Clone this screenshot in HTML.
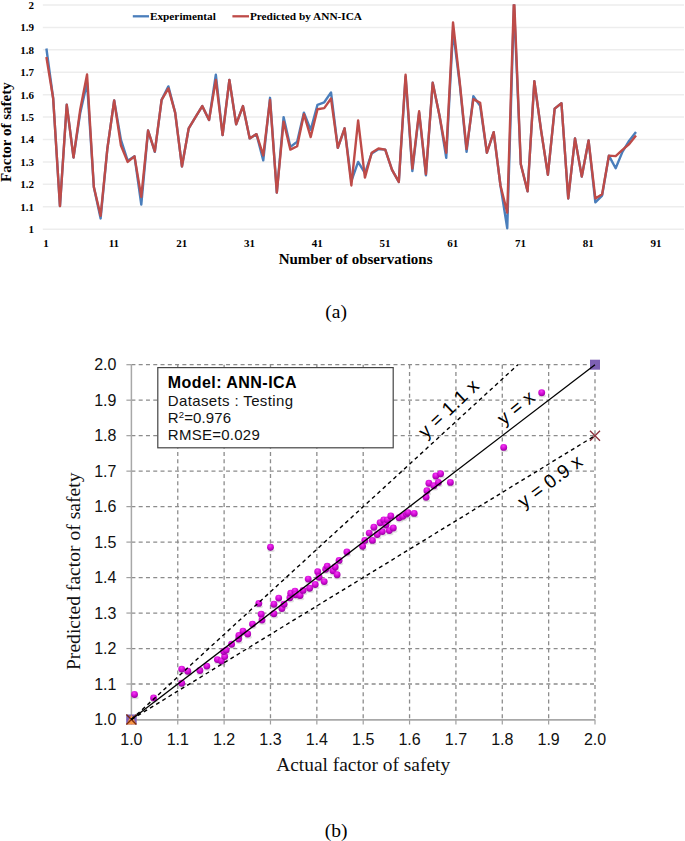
<!DOCTYPE html><html><head><meta charset="utf-8"><style>html,body{margin:0;padding:0;background:#fff;}svg{display:block;}</style></head><body>
<svg width="685" height="841" viewBox="0 0 685 841">
<defs><radialGradient id="ball" cx="0.45" cy="0.3" r="0.75"><stop offset="0" stop-color="#f53cf5"/><stop offset="0.5" stop-color="#d20ad5"/><stop offset="1" stop-color="#8a0095"/></radialGradient></defs>
<rect width="685" height="841" fill="#fff"/>
<line x1="42.8" y1="229.20" x2="684" y2="229.20" stroke="#ededed" stroke-width="1.5"/>
<line x1="42.8" y1="206.78" x2="684" y2="206.78" stroke="#ededed" stroke-width="1.5"/>
<line x1="42.8" y1="184.36" x2="684" y2="184.36" stroke="#ededed" stroke-width="1.5"/>
<line x1="42.8" y1="161.94" x2="684" y2="161.94" stroke="#ededed" stroke-width="1.5"/>
<line x1="42.8" y1="139.52" x2="684" y2="139.52" stroke="#ededed" stroke-width="1.5"/>
<line x1="42.8" y1="117.10" x2="684" y2="117.10" stroke="#ededed" stroke-width="1.5"/>
<line x1="42.8" y1="94.68" x2="684" y2="94.68" stroke="#ededed" stroke-width="1.5"/>
<line x1="42.8" y1="72.26" x2="684" y2="72.26" stroke="#ededed" stroke-width="1.5"/>
<line x1="42.8" y1="49.84" x2="684" y2="49.84" stroke="#ededed" stroke-width="1.5"/>
<line x1="42.8" y1="27.42" x2="684" y2="27.42" stroke="#ededed" stroke-width="1.5"/>
<line x1="42.8" y1="5.00" x2="684" y2="5.00" stroke="#ededed" stroke-width="1.5"/>
<text x="34" y="233.10" text-anchor="end" font-family="Liberation Serif, serif" font-weight="bold" font-size="11">1</text>
<text x="34" y="210.68" text-anchor="end" font-family="Liberation Serif, serif" font-weight="bold" font-size="11">1.1</text>
<text x="34" y="188.26" text-anchor="end" font-family="Liberation Serif, serif" font-weight="bold" font-size="11">1.2</text>
<text x="34" y="165.84" text-anchor="end" font-family="Liberation Serif, serif" font-weight="bold" font-size="11">1.3</text>
<text x="34" y="143.42" text-anchor="end" font-family="Liberation Serif, serif" font-weight="bold" font-size="11">1.4</text>
<text x="34" y="121.00" text-anchor="end" font-family="Liberation Serif, serif" font-weight="bold" font-size="11">1.5</text>
<text x="34" y="98.58" text-anchor="end" font-family="Liberation Serif, serif" font-weight="bold" font-size="11">1.6</text>
<text x="34" y="76.16" text-anchor="end" font-family="Liberation Serif, serif" font-weight="bold" font-size="11">1.7</text>
<text x="34" y="53.74" text-anchor="end" font-family="Liberation Serif, serif" font-weight="bold" font-size="11">1.8</text>
<text x="34" y="31.32" text-anchor="end" font-family="Liberation Serif, serif" font-weight="bold" font-size="11">1.9</text>
<text x="34" y="8.90" text-anchor="end" font-family="Liberation Serif, serif" font-weight="bold" font-size="11">2</text>
<text x="46.10" y="246.7" text-anchor="middle" font-family="Liberation Serif, serif" font-weight="bold" font-size="11">1</text>
<text x="113.87" y="246.7" text-anchor="middle" font-family="Liberation Serif, serif" font-weight="bold" font-size="11">11</text>
<text x="181.64" y="246.7" text-anchor="middle" font-family="Liberation Serif, serif" font-weight="bold" font-size="11">21</text>
<text x="249.41" y="246.7" text-anchor="middle" font-family="Liberation Serif, serif" font-weight="bold" font-size="11">31</text>
<text x="317.18" y="246.7" text-anchor="middle" font-family="Liberation Serif, serif" font-weight="bold" font-size="11">41</text>
<text x="384.95" y="246.7" text-anchor="middle" font-family="Liberation Serif, serif" font-weight="bold" font-size="11">51</text>
<text x="452.72" y="246.7" text-anchor="middle" font-family="Liberation Serif, serif" font-weight="bold" font-size="11">61</text>
<text x="520.49" y="246.7" text-anchor="middle" font-family="Liberation Serif, serif" font-weight="bold" font-size="11">71</text>
<text x="588.26" y="246.7" text-anchor="middle" font-family="Liberation Serif, serif" font-weight="bold" font-size="11">81</text>
<text x="656.03" y="246.7" text-anchor="middle" font-family="Liberation Serif, serif" font-weight="bold" font-size="11">91</text>
<clipPath id="tc"><rect x="0" y="4.2" width="685" height="240"/></clipPath>
<g clip-path="url(#tc)">
<polyline points="46.40,48.49 53.18,98.49 59.95,206.11 66.73,104.77 73.51,157.46 80.28,112.62 87.06,82.80 93.84,187.05 100.62,218.44 107.39,148.49 114.17,100.51 120.95,139.97 127.72,160.82 134.50,156.34 141.28,204.54 148.06,130.55 154.83,151.85 161.61,99.84 168.39,86.38 175.16,112.62 181.94,166.42 188.72,128.31 195.49,117.10 202.27,106.11 209.05,120.01 215.83,74.73 222.60,135.04 229.38,79.88 236.16,124.27 242.93,106.11 249.71,138.40 256.49,134.14 263.26,160.37 270.04,97.82 276.82,192.66 283.59,117.10 290.37,146.92 297.15,141.76 303.93,112.62 310.70,129.88 317.48,104.77 324.26,102.30 331.03,92.44 337.81,147.82 344.59,128.31 351.37,181.22 358.14,161.94 364.92,173.15 371.70,153.42 378.47,149.16 385.25,149.61 392.03,169.79 398.80,181.89 405.58,76.74 412.36,171.13 419.13,112.62 425.91,175.39 432.69,82.80 439.47,115.53 446.24,157.90 453.02,30.56 459.80,84.59 466.57,151.85 473.35,96.25 480.13,105.89 486.90,152.75 493.68,132.12 500.46,185.48 507.24,228.30 514.01,5.00 520.79,164.18 527.57,191.31 534.34,81.23 541.12,130.55 547.90,174.72 554.68,108.58 561.45,103.20 568.23,198.48 575.01,138.40 581.78,176.51 588.56,140.42 595.34,202.30 602.11,195.57 608.89,155.66 615.67,168.22 622.44,151.85 629.22,140.64 636.00,131.90" fill="none" stroke="#4a7ebb" stroke-width="2.4" stroke-linejoin="round"/>
<polyline points="46.40,57.01 53.18,98.49 59.95,206.11 66.73,104.77 73.51,157.46 80.28,109.25 87.06,74.50 93.84,187.05 100.62,215.75 107.39,148.49 114.17,100.51 120.95,145.57 127.72,161.94 134.50,156.34 141.28,196.92 148.06,130.55 154.83,151.40 161.61,99.84 168.39,88.40 175.16,112.62 181.94,166.42 188.72,128.31 195.49,117.10 202.27,106.11 209.05,120.01 215.83,79.88 222.60,135.04 229.38,79.88 236.16,124.27 242.93,106.11 249.71,138.40 256.49,134.14 263.26,155.44 270.04,99.84 276.82,192.66 283.59,121.58 290.37,149.61 297.15,146.25 303.93,114.19 310.70,137.05 317.48,109.25 324.26,108.13 331.03,98.49 337.81,147.82 344.59,128.31 351.37,185.48 358.14,120.46 364.92,177.63 371.70,152.75 378.47,148.49 385.25,149.61 392.03,169.79 398.80,181.89 405.58,74.73 412.36,168.67 419.13,111.27 425.91,174.05 432.69,82.80 439.47,115.53 446.24,152.75 453.02,22.49 459.80,82.80 466.57,149.16 473.35,99.16 480.13,102.75 486.90,152.75 493.68,132.12 500.46,185.48 507.24,212.61 514.01,-3.97 520.79,164.18 527.57,191.31 534.34,81.23 541.12,130.55 547.90,174.72 554.68,108.58 561.45,103.20 568.23,198.48 575.01,138.40 581.78,176.51 588.56,140.42 595.34,198.48 602.11,194.22 608.89,155.66 615.67,156.11 622.44,149.83 629.22,144.00 636.00,135.48" fill="none" stroke="#be4b48" stroke-width="2.4" stroke-linejoin="round"/>
</g>
<line x1="132.8" y1="16.3" x2="149" y2="16.3" stroke="#4a7ebb" stroke-width="2.3"/>
<text x="149.9" y="19.8" font-family="Liberation Serif, serif" font-weight="bold" font-size="11.3">Experimental</text>
<line x1="232.4" y1="16.3" x2="249" y2="16.3" stroke="#be4b48" stroke-width="2.3"/>
<text x="249.9" y="19.8" font-family="Liberation Serif, serif" font-weight="bold" font-size="11.3">Predicted by ANN-ICA</text>
<text x="355.6" y="263.6" text-anchor="middle" font-family="Liberation Serif, serif" font-weight="bold" font-size="15">Number of observations</text>
<text transform="translate(10.7,132.1) rotate(-90)" text-anchor="middle" font-family="Liberation Serif, serif" font-weight="bold" font-size="15">Factor of safety</text>
<text x="336.1" y="317.6" text-anchor="middle" font-family="Liberation Serif, serif" font-size="19.5">(a)</text>
<line x1="177.76" y1="364.70" x2="177.76" y2="719.5" stroke="#8c8c8c" stroke-width="1.3" stroke-dasharray="4 3.28"/>
<line x1="131.4" y1="684.02" x2="595.00" y2="684.02" stroke="#8c8c8c" stroke-width="1.3" stroke-dasharray="4 3.28"/>
<line x1="224.12" y1="364.70" x2="224.12" y2="719.5" stroke="#8c8c8c" stroke-width="1.3" stroke-dasharray="4 3.28"/>
<line x1="131.4" y1="648.54" x2="595.00" y2="648.54" stroke="#8c8c8c" stroke-width="1.3" stroke-dasharray="4 3.28"/>
<line x1="270.48" y1="364.70" x2="270.48" y2="719.5" stroke="#8c8c8c" stroke-width="1.3" stroke-dasharray="4 3.28"/>
<line x1="131.4" y1="613.06" x2="595.00" y2="613.06" stroke="#8c8c8c" stroke-width="1.3" stroke-dasharray="4 3.28"/>
<line x1="316.84" y1="364.70" x2="316.84" y2="719.5" stroke="#8c8c8c" stroke-width="1.3" stroke-dasharray="4 3.28"/>
<line x1="131.4" y1="577.58" x2="595.00" y2="577.58" stroke="#8c8c8c" stroke-width="1.3" stroke-dasharray="4 3.28"/>
<line x1="363.20" y1="364.70" x2="363.20" y2="719.5" stroke="#8c8c8c" stroke-width="1.3" stroke-dasharray="4 3.28"/>
<line x1="131.4" y1="542.10" x2="595.00" y2="542.10" stroke="#8c8c8c" stroke-width="1.3" stroke-dasharray="4 3.28"/>
<line x1="409.56" y1="364.70" x2="409.56" y2="719.5" stroke="#8c8c8c" stroke-width="1.3" stroke-dasharray="4 3.28"/>
<line x1="131.4" y1="506.62" x2="595.00" y2="506.62" stroke="#8c8c8c" stroke-width="1.3" stroke-dasharray="4 3.28"/>
<line x1="455.92" y1="364.70" x2="455.92" y2="719.5" stroke="#8c8c8c" stroke-width="1.3" stroke-dasharray="4 3.28"/>
<line x1="131.4" y1="471.14" x2="595.00" y2="471.14" stroke="#8c8c8c" stroke-width="1.3" stroke-dasharray="4 3.28"/>
<line x1="502.28" y1="364.70" x2="502.28" y2="719.5" stroke="#8c8c8c" stroke-width="1.3" stroke-dasharray="4 3.28"/>
<line x1="131.4" y1="435.66" x2="595.00" y2="435.66" stroke="#8c8c8c" stroke-width="1.3" stroke-dasharray="4 3.28"/>
<line x1="548.64" y1="364.70" x2="548.64" y2="719.5" stroke="#8c8c8c" stroke-width="1.3" stroke-dasharray="4 3.28"/>
<line x1="131.4" y1="400.18" x2="595.00" y2="400.18" stroke="#8c8c8c" stroke-width="1.3" stroke-dasharray="4 3.28"/>
<line x1="595.00" y1="364.70" x2="595.00" y2="719.5" stroke="#8c8c8c" stroke-width="1.3" stroke-dasharray="4 3.28"/>
<line x1="131.4" y1="364.70" x2="595.00" y2="364.70" stroke="#8c8c8c" stroke-width="1.3" stroke-dasharray="4 3.28"/>
<line x1="131.40" y1="719.5" x2="131.40" y2="724.5" stroke="#a0a0a0" stroke-width="1.2"/>
<line x1="126.4" y1="719.50" x2="131.4" y2="719.50" stroke="#a0a0a0" stroke-width="1.2"/>
<line x1="177.76" y1="719.5" x2="177.76" y2="724.5" stroke="#a0a0a0" stroke-width="1.2"/>
<line x1="126.4" y1="684.02" x2="131.4" y2="684.02" stroke="#a0a0a0" stroke-width="1.2"/>
<line x1="224.12" y1="719.5" x2="224.12" y2="724.5" stroke="#a0a0a0" stroke-width="1.2"/>
<line x1="126.4" y1="648.54" x2="131.4" y2="648.54" stroke="#a0a0a0" stroke-width="1.2"/>
<line x1="270.48" y1="719.5" x2="270.48" y2="724.5" stroke="#a0a0a0" stroke-width="1.2"/>
<line x1="126.4" y1="613.06" x2="131.4" y2="613.06" stroke="#a0a0a0" stroke-width="1.2"/>
<line x1="316.84" y1="719.5" x2="316.84" y2="724.5" stroke="#a0a0a0" stroke-width="1.2"/>
<line x1="126.4" y1="577.58" x2="131.4" y2="577.58" stroke="#a0a0a0" stroke-width="1.2"/>
<line x1="363.20" y1="719.5" x2="363.20" y2="724.5" stroke="#a0a0a0" stroke-width="1.2"/>
<line x1="126.4" y1="542.10" x2="131.4" y2="542.10" stroke="#a0a0a0" stroke-width="1.2"/>
<line x1="409.56" y1="719.5" x2="409.56" y2="724.5" stroke="#a0a0a0" stroke-width="1.2"/>
<line x1="126.4" y1="506.62" x2="131.4" y2="506.62" stroke="#a0a0a0" stroke-width="1.2"/>
<line x1="455.92" y1="719.5" x2="455.92" y2="724.5" stroke="#a0a0a0" stroke-width="1.2"/>
<line x1="126.4" y1="471.14" x2="131.4" y2="471.14" stroke="#a0a0a0" stroke-width="1.2"/>
<line x1="502.28" y1="719.5" x2="502.28" y2="724.5" stroke="#a0a0a0" stroke-width="1.2"/>
<line x1="126.4" y1="435.66" x2="131.4" y2="435.66" stroke="#a0a0a0" stroke-width="1.2"/>
<line x1="548.64" y1="719.5" x2="548.64" y2="724.5" stroke="#a0a0a0" stroke-width="1.2"/>
<line x1="126.4" y1="400.18" x2="131.4" y2="400.18" stroke="#a0a0a0" stroke-width="1.2"/>
<line x1="595.00" y1="719.5" x2="595.00" y2="724.5" stroke="#a0a0a0" stroke-width="1.2"/>
<line x1="126.4" y1="364.70" x2="131.4" y2="364.70" stroke="#a0a0a0" stroke-width="1.2"/>
<line x1="131.4" y1="364.70" x2="131.4" y2="720.2" stroke="#a8a8a8" stroke-width="1.5"/>
<line x1="130.6" y1="719.8" x2="595.00" y2="719.8" stroke="#a8a8a8" stroke-width="1.8"/>
<text x="116.4" y="725.10" text-anchor="end" font-family="Liberation Sans, sans-serif" font-size="16" fill="#111">1.0</text>
<text x="131.40" y="745.3" text-anchor="middle" font-family="Liberation Sans, sans-serif" font-size="16" fill="#111">1.0</text>
<text x="116.4" y="689.62" text-anchor="end" font-family="Liberation Sans, sans-serif" font-size="16" fill="#111">1.1</text>
<text x="177.76" y="745.3" text-anchor="middle" font-family="Liberation Sans, sans-serif" font-size="16" fill="#111">1.1</text>
<text x="116.4" y="654.14" text-anchor="end" font-family="Liberation Sans, sans-serif" font-size="16" fill="#111">1.2</text>
<text x="224.12" y="745.3" text-anchor="middle" font-family="Liberation Sans, sans-serif" font-size="16" fill="#111">1.2</text>
<text x="116.4" y="618.66" text-anchor="end" font-family="Liberation Sans, sans-serif" font-size="16" fill="#111">1.3</text>
<text x="270.48" y="745.3" text-anchor="middle" font-family="Liberation Sans, sans-serif" font-size="16" fill="#111">1.3</text>
<text x="116.4" y="583.18" text-anchor="end" font-family="Liberation Sans, sans-serif" font-size="16" fill="#111">1.4</text>
<text x="316.84" y="745.3" text-anchor="middle" font-family="Liberation Sans, sans-serif" font-size="16" fill="#111">1.4</text>
<text x="116.4" y="547.70" text-anchor="end" font-family="Liberation Sans, sans-serif" font-size="16" fill="#111">1.5</text>
<text x="363.20" y="745.3" text-anchor="middle" font-family="Liberation Sans, sans-serif" font-size="16" fill="#111">1.5</text>
<text x="116.4" y="512.22" text-anchor="end" font-family="Liberation Sans, sans-serif" font-size="16" fill="#111">1.6</text>
<text x="409.56" y="745.3" text-anchor="middle" font-family="Liberation Sans, sans-serif" font-size="16" fill="#111">1.6</text>
<text x="116.4" y="476.74" text-anchor="end" font-family="Liberation Sans, sans-serif" font-size="16" fill="#111">1.7</text>
<text x="455.92" y="745.3" text-anchor="middle" font-family="Liberation Sans, sans-serif" font-size="16" fill="#111">1.7</text>
<text x="116.4" y="441.26" text-anchor="end" font-family="Liberation Sans, sans-serif" font-size="16" fill="#111">1.8</text>
<text x="502.28" y="745.3" text-anchor="middle" font-family="Liberation Sans, sans-serif" font-size="16" fill="#111">1.8</text>
<text x="116.4" y="405.78" text-anchor="end" font-family="Liberation Sans, sans-serif" font-size="16" fill="#111">1.9</text>
<text x="548.64" y="745.3" text-anchor="middle" font-family="Liberation Sans, sans-serif" font-size="16" fill="#111">1.9</text>
<text x="116.4" y="370.30" text-anchor="end" font-family="Liberation Sans, sans-serif" font-size="16" fill="#111">2.0</text>
<text x="595.00" y="745.3" text-anchor="middle" font-family="Liberation Sans, sans-serif" font-size="16" fill="#111">2.0</text>
<ellipse cx="135.1" cy="697.7" rx="3.6" ry="1.6" fill="#000" opacity="0.12"/>
<ellipse cx="154.2" cy="701.1" rx="3.6" ry="1.6" fill="#000" opacity="0.12"/>
<ellipse cx="182.3" cy="672.3" rx="3.6" ry="1.6" fill="#000" opacity="0.12"/>
<ellipse cx="188.4" cy="674.4" rx="3.6" ry="1.6" fill="#000" opacity="0.12"/>
<ellipse cx="182.3" cy="686.4" rx="3.6" ry="1.6" fill="#000" opacity="0.12"/>
<ellipse cx="200.5" cy="673.7" rx="3.6" ry="1.6" fill="#000" opacity="0.12"/>
<ellipse cx="207.4" cy="669.3" rx="3.6" ry="1.6" fill="#000" opacity="0.12"/>
<ellipse cx="218.0" cy="662.8" rx="3.6" ry="1.6" fill="#000" opacity="0.12"/>
<ellipse cx="222.0" cy="664.2" rx="3.6" ry="1.6" fill="#000" opacity="0.12"/>
<ellipse cx="225.3" cy="659.8" rx="3.6" ry="1.6" fill="#000" opacity="0.12"/>
<ellipse cx="224.3" cy="654.7" rx="3.6" ry="1.6" fill="#000" opacity="0.12"/>
<ellipse cx="226.8" cy="653.3" rx="3.6" ry="1.6" fill="#000" opacity="0.12"/>
<ellipse cx="232.2" cy="647.4" rx="3.6" ry="1.6" fill="#000" opacity="0.12"/>
<ellipse cx="239.2" cy="642.3" rx="3.6" ry="1.6" fill="#000" opacity="0.12"/>
<ellipse cx="239.5" cy="638.7" rx="3.6" ry="1.6" fill="#000" opacity="0.12"/>
<ellipse cx="243.6" cy="634.3" rx="3.6" ry="1.6" fill="#000" opacity="0.12"/>
<ellipse cx="248.3" cy="637.2" rx="3.6" ry="1.6" fill="#000" opacity="0.12"/>
<ellipse cx="253.1" cy="627.3" rx="3.6" ry="1.6" fill="#000" opacity="0.12"/>
<ellipse cx="259.4" cy="606.6" rx="3.6" ry="1.6" fill="#000" opacity="0.12"/>
<ellipse cx="261.8" cy="617.5" rx="3.6" ry="1.6" fill="#000" opacity="0.12"/>
<ellipse cx="262.6" cy="623.3" rx="3.6" ry="1.6" fill="#000" opacity="0.12"/>
<ellipse cx="271.1" cy="550.5" rx="3.6" ry="1.6" fill="#000" opacity="0.12"/>
<ellipse cx="274.5" cy="616.9" rx="3.6" ry="1.6" fill="#000" opacity="0.12"/>
<ellipse cx="274.5" cy="607.4" rx="3.6" ry="1.6" fill="#000" opacity="0.12"/>
<ellipse cx="279.3" cy="601.3" rx="3.6" ry="1.6" fill="#000" opacity="0.12"/>
<ellipse cx="282.5" cy="611.8" rx="3.6" ry="1.6" fill="#000" opacity="0.12"/>
<ellipse cx="284.7" cy="607.4" rx="3.6" ry="1.6" fill="#000" opacity="0.12"/>
<ellipse cx="290.5" cy="600.9" rx="3.6" ry="1.6" fill="#000" opacity="0.12"/>
<ellipse cx="291.3" cy="596.5" rx="3.6" ry="1.6" fill="#000" opacity="0.12"/>
<ellipse cx="295.6" cy="594.3" rx="3.6" ry="1.6" fill="#000" opacity="0.12"/>
<ellipse cx="296.4" cy="597.9" rx="3.6" ry="1.6" fill="#000" opacity="0.12"/>
<ellipse cx="300.7" cy="598.7" rx="3.6" ry="1.6" fill="#000" opacity="0.12"/>
<ellipse cx="303.7" cy="593.6" rx="3.6" ry="1.6" fill="#000" opacity="0.12"/>
<ellipse cx="310.2" cy="591.4" rx="3.6" ry="1.6" fill="#000" opacity="0.12"/>
<ellipse cx="308.8" cy="582.3" rx="3.6" ry="1.6" fill="#000" opacity="0.12"/>
<ellipse cx="315.8" cy="587.7" rx="3.6" ry="1.6" fill="#000" opacity="0.12"/>
<ellipse cx="318.3" cy="575.0" rx="3.6" ry="1.6" fill="#000" opacity="0.12"/>
<ellipse cx="319.7" cy="580.4" rx="3.6" ry="1.6" fill="#000" opacity="0.12"/>
<ellipse cx="324.8" cy="584.8" rx="3.6" ry="1.6" fill="#000" opacity="0.12"/>
<ellipse cx="326.3" cy="572.4" rx="3.6" ry="1.6" fill="#000" opacity="0.12"/>
<ellipse cx="327.8" cy="569.5" rx="3.6" ry="1.6" fill="#000" opacity="0.12"/>
<ellipse cx="333.6" cy="573.9" rx="3.6" ry="1.6" fill="#000" opacity="0.12"/>
<ellipse cx="335.8" cy="570.2" rx="3.6" ry="1.6" fill="#000" opacity="0.12"/>
<ellipse cx="337.7" cy="577.9" rx="3.6" ry="1.6" fill="#000" opacity="0.12"/>
<ellipse cx="339.7" cy="563.6" rx="3.6" ry="1.6" fill="#000" opacity="0.12"/>
<ellipse cx="347.5" cy="555.2" rx="3.6" ry="1.6" fill="#000" opacity="0.12"/>
<ellipse cx="363.2" cy="549.4" rx="3.6" ry="1.6" fill="#000" opacity="0.12"/>
<ellipse cx="365.4" cy="543.6" rx="3.6" ry="1.6" fill="#000" opacity="0.12"/>
<ellipse cx="369.8" cy="536.3" rx="3.6" ry="1.6" fill="#000" opacity="0.12"/>
<ellipse cx="373.0" cy="543.6" rx="3.6" ry="1.6" fill="#000" opacity="0.12"/>
<ellipse cx="374.5" cy="530.4" rx="3.6" ry="1.6" fill="#000" opacity="0.12"/>
<ellipse cx="377.8" cy="537.7" rx="3.6" ry="1.6" fill="#000" opacity="0.12"/>
<ellipse cx="380.7" cy="526.0" rx="3.6" ry="1.6" fill="#000" opacity="0.12"/>
<ellipse cx="382.9" cy="534.8" rx="3.6" ry="1.6" fill="#000" opacity="0.12"/>
<ellipse cx="384.4" cy="523.1" rx="3.6" ry="1.6" fill="#000" opacity="0.12"/>
<ellipse cx="386.6" cy="528.2" rx="3.6" ry="1.6" fill="#000" opacity="0.12"/>
<ellipse cx="388.0" cy="523.1" rx="3.6" ry="1.6" fill="#000" opacity="0.12"/>
<ellipse cx="389.9" cy="533.8" rx="3.6" ry="1.6" fill="#000" opacity="0.12"/>
<ellipse cx="391.4" cy="519.2" rx="3.6" ry="1.6" fill="#000" opacity="0.12"/>
<ellipse cx="393.9" cy="531.2" rx="3.6" ry="1.6" fill="#000" opacity="0.12"/>
<ellipse cx="399.7" cy="520.9" rx="3.6" ry="1.6" fill="#000" opacity="0.12"/>
<ellipse cx="403.4" cy="519.5" rx="3.6" ry="1.6" fill="#000" opacity="0.12"/>
<ellipse cx="407.0" cy="517.3" rx="3.6" ry="1.6" fill="#000" opacity="0.12"/>
<ellipse cx="408.5" cy="515.8" rx="3.6" ry="1.6" fill="#000" opacity="0.12"/>
<ellipse cx="414.8" cy="516.6" rx="3.6" ry="1.6" fill="#000" opacity="0.12"/>
<ellipse cx="426.7" cy="500.5" rx="3.6" ry="1.6" fill="#000" opacity="0.12"/>
<ellipse cx="427.5" cy="493.9" rx="3.6" ry="1.6" fill="#000" opacity="0.12"/>
<ellipse cx="429.5" cy="486.5" rx="3.6" ry="1.6" fill="#000" opacity="0.12"/>
<ellipse cx="434.5" cy="489.0" rx="3.6" ry="1.6" fill="#000" opacity="0.12"/>
<ellipse cx="436.4" cy="479.2" rx="3.6" ry="1.6" fill="#000" opacity="0.12"/>
<ellipse cx="439.0" cy="485.6" rx="3.6" ry="1.6" fill="#000" opacity="0.12"/>
<ellipse cx="441.2" cy="477.0" rx="3.6" ry="1.6" fill="#000" opacity="0.12"/>
<ellipse cx="451.0" cy="485.6" rx="3.6" ry="1.6" fill="#000" opacity="0.12"/>
<ellipse cx="504.3" cy="450.6" rx="3.6" ry="1.6" fill="#000" opacity="0.12"/>
<ellipse cx="542.3" cy="395.9" rx="3.6" ry="1.6" fill="#000" opacity="0.12"/>
<circle cx="134.5" cy="694.5" r="3.45" fill="url(#ball)"/>
<circle cx="153.6" cy="697.9" r="3.45" fill="url(#ball)"/>
<circle cx="181.7" cy="669.1" r="3.45" fill="url(#ball)"/>
<circle cx="187.8" cy="671.2" r="3.45" fill="url(#ball)"/>
<circle cx="181.7" cy="683.2" r="3.45" fill="url(#ball)"/>
<circle cx="199.9" cy="670.5" r="3.45" fill="url(#ball)"/>
<circle cx="206.8" cy="666.1" r="3.45" fill="url(#ball)"/>
<circle cx="217.4" cy="659.6" r="3.45" fill="url(#ball)"/>
<circle cx="221.4" cy="661.0" r="3.45" fill="url(#ball)"/>
<circle cx="224.7" cy="656.6" r="3.45" fill="url(#ball)"/>
<circle cx="223.7" cy="651.5" r="3.45" fill="url(#ball)"/>
<circle cx="226.2" cy="650.1" r="3.45" fill="url(#ball)"/>
<circle cx="231.6" cy="644.2" r="3.45" fill="url(#ball)"/>
<circle cx="238.6" cy="639.1" r="3.45" fill="url(#ball)"/>
<circle cx="238.9" cy="635.5" r="3.45" fill="url(#ball)"/>
<circle cx="243.0" cy="631.1" r="3.45" fill="url(#ball)"/>
<circle cx="247.7" cy="634.0" r="3.45" fill="url(#ball)"/>
<circle cx="252.5" cy="624.1" r="3.45" fill="url(#ball)"/>
<circle cx="258.8" cy="603.4" r="3.45" fill="url(#ball)"/>
<circle cx="261.2" cy="614.3" r="3.45" fill="url(#ball)"/>
<circle cx="262.0" cy="620.1" r="3.45" fill="url(#ball)"/>
<circle cx="270.5" cy="547.3" r="3.45" fill="url(#ball)"/>
<circle cx="273.9" cy="613.7" r="3.45" fill="url(#ball)"/>
<circle cx="273.9" cy="604.2" r="3.45" fill="url(#ball)"/>
<circle cx="278.7" cy="598.1" r="3.45" fill="url(#ball)"/>
<circle cx="281.9" cy="608.6" r="3.45" fill="url(#ball)"/>
<circle cx="284.1" cy="604.2" r="3.45" fill="url(#ball)"/>
<circle cx="289.9" cy="597.7" r="3.45" fill="url(#ball)"/>
<circle cx="290.7" cy="593.3" r="3.45" fill="url(#ball)"/>
<circle cx="295.0" cy="591.1" r="3.45" fill="url(#ball)"/>
<circle cx="295.8" cy="594.7" r="3.45" fill="url(#ball)"/>
<circle cx="300.1" cy="595.5" r="3.45" fill="url(#ball)"/>
<circle cx="303.1" cy="590.4" r="3.45" fill="url(#ball)"/>
<circle cx="309.6" cy="588.2" r="3.45" fill="url(#ball)"/>
<circle cx="308.2" cy="579.1" r="3.45" fill="url(#ball)"/>
<circle cx="315.2" cy="584.5" r="3.45" fill="url(#ball)"/>
<circle cx="317.7" cy="571.8" r="3.45" fill="url(#ball)"/>
<circle cx="319.1" cy="577.2" r="3.45" fill="url(#ball)"/>
<circle cx="324.2" cy="581.6" r="3.45" fill="url(#ball)"/>
<circle cx="325.7" cy="569.2" r="3.45" fill="url(#ball)"/>
<circle cx="327.2" cy="566.3" r="3.45" fill="url(#ball)"/>
<circle cx="333.0" cy="570.7" r="3.45" fill="url(#ball)"/>
<circle cx="335.2" cy="567.0" r="3.45" fill="url(#ball)"/>
<circle cx="337.1" cy="574.7" r="3.45" fill="url(#ball)"/>
<circle cx="339.1" cy="560.4" r="3.45" fill="url(#ball)"/>
<circle cx="346.9" cy="552.0" r="3.45" fill="url(#ball)"/>
<circle cx="362.6" cy="546.2" r="3.45" fill="url(#ball)"/>
<circle cx="364.8" cy="540.4" r="3.45" fill="url(#ball)"/>
<circle cx="369.2" cy="533.1" r="3.45" fill="url(#ball)"/>
<circle cx="372.4" cy="540.4" r="3.45" fill="url(#ball)"/>
<circle cx="373.9" cy="527.2" r="3.45" fill="url(#ball)"/>
<circle cx="377.2" cy="534.5" r="3.45" fill="url(#ball)"/>
<circle cx="380.1" cy="522.8" r="3.45" fill="url(#ball)"/>
<circle cx="382.3" cy="531.6" r="3.45" fill="url(#ball)"/>
<circle cx="383.8" cy="519.9" r="3.45" fill="url(#ball)"/>
<circle cx="386.0" cy="525.0" r="3.45" fill="url(#ball)"/>
<circle cx="387.4" cy="519.9" r="3.45" fill="url(#ball)"/>
<circle cx="389.3" cy="530.6" r="3.45" fill="url(#ball)"/>
<circle cx="390.8" cy="516.0" r="3.45" fill="url(#ball)"/>
<circle cx="393.3" cy="528.0" r="3.45" fill="url(#ball)"/>
<circle cx="399.1" cy="517.7" r="3.45" fill="url(#ball)"/>
<circle cx="402.8" cy="516.3" r="3.45" fill="url(#ball)"/>
<circle cx="406.4" cy="514.1" r="3.45" fill="url(#ball)"/>
<circle cx="407.9" cy="512.6" r="3.45" fill="url(#ball)"/>
<circle cx="414.2" cy="513.4" r="3.45" fill="url(#ball)"/>
<circle cx="426.1" cy="497.3" r="3.45" fill="url(#ball)"/>
<circle cx="426.9" cy="490.7" r="3.45" fill="url(#ball)"/>
<circle cx="428.9" cy="483.3" r="3.45" fill="url(#ball)"/>
<circle cx="433.9" cy="485.8" r="3.45" fill="url(#ball)"/>
<circle cx="435.8" cy="476.0" r="3.45" fill="url(#ball)"/>
<circle cx="438.4" cy="482.4" r="3.45" fill="url(#ball)"/>
<circle cx="440.6" cy="473.8" r="3.45" fill="url(#ball)"/>
<circle cx="450.4" cy="482.4" r="3.45" fill="url(#ball)"/>
<circle cx="503.7" cy="447.4" r="3.45" fill="url(#ball)"/>
<circle cx="541.7" cy="392.7" r="3.45" fill="url(#ball)"/>
<rect x="126.2" y="714.5" width="10.5" height="10" fill="#7d60b4"/>
<polygon points="131.4,714.7 136.4,724.5 126.4,724.5" fill="#f79646"/>
<path d="M126.4,714.5 L136.4,724.5 M136.4,714.5 L126.4,724.5" stroke="#7a2a10" stroke-width="1.3"/>
<rect x="590.0" y="359.7" width="10" height="10" fill="#7d60b4"/>
<path d="M590.0,430.7 L600.0,440.7 M600.0,430.7 L590.0,440.7" stroke="#8a2e3a" stroke-width="1.3"/>
<line x1="131.4" y1="719.5" x2="517.9" y2="364.70" stroke="#000" stroke-width="1.4" stroke-dasharray="3.9 3.36"/>
<line x1="131.4" y1="719.5" x2="595.00" y2="435.66" stroke="#000" stroke-width="1.4" stroke-dasharray="3.9 3.36"/>
<line x1="131.4" y1="719.5" x2="595.00" y2="364.70" stroke="#000" stroke-width="1.3"/>
<rect x="157.8" y="367.6" width="235.4" height="80.2" fill="#fff" stroke="#444" stroke-width="1.2"/>
<text x="167.8" y="387.7" font-family="Liberation Sans, sans-serif" font-weight="bold" font-size="16" letter-spacing="0.45" fill="#000">Model: ANN-ICA</text>
<text x="167.8" y="405.8" font-family="Liberation Sans, sans-serif" font-size="15" letter-spacing="0.37" fill="#111">Datasets : Testing</text>
<text x="167.8" y="422.7" font-family="Liberation Sans, sans-serif" font-size="15" letter-spacing="0.12" fill="#111">R<tspan font-size="9.5" dy="-4.6">2</tspan><tspan dy="4.6">=0.976</tspan></text>
<text x="167.8" y="440.4" font-family="Liberation Sans, sans-serif" font-size="15" letter-spacing="0.26" fill="#111">RMSE=0.029</text>
<text transform="translate(448.6,408.4) rotate(-43.5)" text-anchor="middle" dominant-baseline="central" font-family="Liberation Sans, sans-serif" font-size="19" letter-spacing="0.3" fill="#000">y = 1.1 x</text>
<text transform="translate(516.0,407.5) rotate(-39)" text-anchor="middle" dominant-baseline="central" font-family="Liberation Sans, sans-serif" font-size="19" letter-spacing="0.3" fill="#000">y = x</text>
<text transform="translate(550.1,481.2) rotate(-36.5)" text-anchor="middle" dominant-baseline="central" font-family="Liberation Sans, sans-serif" font-size="19" letter-spacing="0.3" fill="#000">y = 0.9 x</text>
<text x="363.2" y="770.9" text-anchor="middle" font-family="Liberation Serif, serif" font-size="19.4" fill="#111">Actual factor of safety</text>
<text transform="translate(79.8,571.3) rotate(-90)" text-anchor="middle" font-family="Liberation Serif, serif" font-size="19.6" fill="#111">Predicted factor of safety</text>
<text x="336.2" y="837" text-anchor="middle" font-family="Liberation Serif, serif" font-size="19.5">(b)</text>
</svg></body></html>
